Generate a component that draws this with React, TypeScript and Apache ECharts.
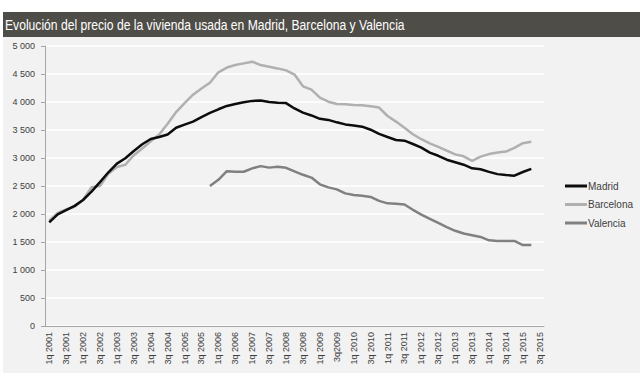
import React, { useEffect, useRef } from "react";
import * as echarts from "echarts";

const TITLE = "Evolución del precio de la vivienda usada en Madrid, Barcelona y Valencia";

const categories = [
  "1q 2001", "2q 2001", "3q 2001", "4q 2001",
  "1q 2002", "2q 2002", "3q 2002", "4q 2002",
  "1q 2003", "2q 2003", "3q 2003", "4q 2003",
  "1q 2004", "2q 2004", "3q 2004", "4q 2004",
  "1q 2005", "2q 2005", "3q 2005", "4q 2005",
  "1q 2006", "2q 2006", "3q 2006", "4q 2006",
  "1q 2007", "2q 2007", "3q 2007", "4q 2007",
  "1q 2008", "2q 2008", "3q 2008", "4q 2008",
  "1q 2009", "2q 2009", "3q2009", "4q 2009",
  "1q 2010", "2q 2010", "3q 2010", "4q 2010",
  "1q 2011", "2q 2011", "3q 2011", "4q 2011",
  "1q 2012", "2q 2012", "3q 2012", "4q 2012",
  "1q 2013", "2q 2013", "3q 2013", "4q 2013",
  "1q 2014", "2q 2014", "3q 2014", "4q 2014",
  "1q 2015", "2q 2015", "3q 2015",
];

const madrid = [
  1850, 1995, 2070, 2145, 2250, 2400, 2570, 2745, 2900, 2995, 3125, 3245,
  3340, 3375, 3420, 3540, 3595, 3650, 3730, 3805, 3870, 3930, 3965, 3995,
  4020, 4025, 4000, 3985, 3980, 3885, 3810, 3760, 3700, 3680, 3637, 3600,
  3580, 3560, 3505, 3430, 3375, 3322, 3310, 3250, 3185, 3095, 3040, 2970,
  2925, 2880, 2815, 2798, 2752, 2712, 2695, 2685, 2750, 2805, null,
];

const barcelona = [
  1880, 2020, 2080, 2130, 2250, 2480, 2500, 2720, 2840, 2880, 3050, 3170,
  3300, 3420, 3610, 3820, 3980, 4130, 4240, 4345, 4530, 4615, 4660, 4690,
  4720, 4660, 4630, 4600, 4565, 4490, 4280, 4220, 4077, 4005, 3964, 3958,
  3946, 3940, 3925, 3900, 3750, 3650, 3540, 3425, 3335, 3260, 3200, 3130,
  3065, 3030, 2950, 3025, 3070, 3100, 3115, 3180, 3265, 3290, null,
];

const valencia = [
  null, null, null, null, null, null, null, null, null, null, null, null,
  null, null, null, null, null, null, null, 2500, 2610, 2765, 2755, 2755,
  2815, 2855, 2828, 2845, 2825, 2760, 2700, 2650, 2530, 2475, 2440, 2368,
  2339, 2327, 2305, 2235, 2190, 2184, 2170, 2075, 1990, 1915, 1840, 1765,
  1700, 1653, 1622, 1590, 1530, 1518, 1518, 1518, 1446, 1446, null,
];

const yTicks = { min: 0, max: 5000, interval: 500 };

const FONT = '"Liberation Sans", Arial, sans-serif';

function fmt(v: number): string {
  if (v >= 1000) {
    const th = Math.floor(v / 1000);
    const rest = String(v % 1000).padStart(3, "0");
    return `${th} ${rest}`;
  }
  return String(v);
}

export default function App() {
  const ref = useRef<HTMLDivElement>(null);
  useEffect(() => {
    if (!ref.current) return;
    const chart = echarts.init(ref.current, null, { renderer: "svg" });
    const axisColor = "#a6a6a6";
    const labelColor = "#404040";
    chart.setOption({
      animation: false,
      backgroundColor: "#ffffff",
      graphic: [
        {
          type: "rect",
          z: -10,
          shape: { x: 3, y: 12, width: 637, height: 361 },
          style: { fill: "#f2f2f2" },
          silent: true,
        },
        {
          type: "rect",
          z: -9,
          shape: { x: 3, y: 12, width: 637, height: 25 },
          style: { fill: "#4f4d47" },
          silent: true,
        },
        {
          type: "text",
          z: 10,
          x: 5,
          y: 25,
          scaleX: 0.81,
          style: {
            text: TITLE,
            fill: "#ffffff",
            fontSize: 15,
            fontFamily: FONT,
            verticalAlign: "middle",
            align: "left",
          },
          silent: true,
        },
      ],
      grid: { left: 45, right: 96, top: 46, bottom: 54, containLabel: false },
      legend: {
        orient: "vertical",
        left: 560,
        top: 176,
        icon: "rect",
        itemWidth: 22,
        itemHeight: 3,
        itemGap: 8.5,
        textStyle: { fontSize: 10, color: labelColor, fontFamily: FONT, padding: [0, 0, 0, -4] },
        data: ["Madrid", "Barcelona", "Valencia"],
      },
      xAxis: {
        type: "category",
        data: categories,
        boundaryGap: true,
        axisLine: { lineStyle: { color: axisColor, width: 1 } },
        axisTick: { interval: 0, length: 4, lineStyle: { color: axisColor } },
        axisLabel: {
          interval: 1,
          rotate: 90,
          fontSize: 9,
          color: labelColor,
          fontFamily: FONT,
          margin: 6,
        },
        splitLine: { show: false },
      },
      yAxis: {
        type: "value",
        min: yTicks.min,
        max: yTicks.max,
        interval: yTicks.interval,
        axisLine: { show: true, lineStyle: { color: axisColor, width: 1 } },
        axisTick: { show: true, length: 4, lineStyle: { color: axisColor } },
        axisLabel: {
          fontSize: 9,
          color: labelColor,
          fontFamily: FONT,
          margin: 10,
          formatter: (v: number) => fmt(v),
        },
        splitLine: { lineStyle: { color: "#ffffff", width: 1.5 } },
      },
      series: [
        {
          name: "Madrid",
          type: "line",
          data: madrid,
          symbol: "none",
          lineStyle: { color: "#0d0d0d", width: 2.5 },
          itemStyle: { color: "#0d0d0d" },
          z: 4,
        },
        {
          name: "Barcelona",
          type: "line",
          data: barcelona,
          symbol: "none",
          lineStyle: { color: "#b0b0b0", width: 2.5 },
          itemStyle: { color: "#b0b0b0" },
          z: 3,
        },
        {
          name: "Valencia",
          type: "line",
          data: valencia,
          symbol: "none",
          lineStyle: { color: "#808080", width: 2.5 },
          itemStyle: { color: "#808080" },
          z: 2,
        },
      ],
    });
    return () => chart.dispose();
  }, []);
  return (
    <div
      ref={ref}
      style={{ position: "absolute", left: 0, top: 0, width: 640, height: 380 }}
    />
  );
}
